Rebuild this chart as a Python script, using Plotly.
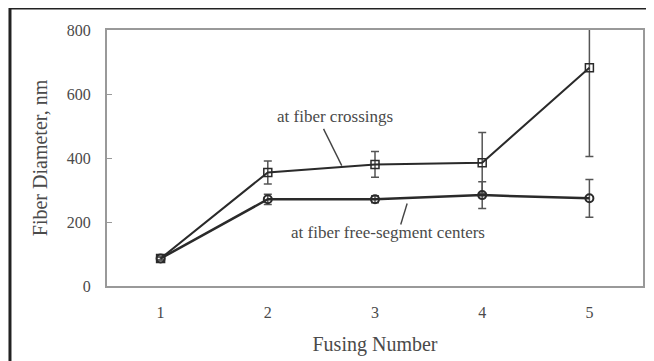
import plotly.graph_objects as go

fusing_number = [1, 2, 3, 4, 5]
crossings = [86, 355, 380, 385, 682]
crossings_err = [5, 36, 40, 95, 277]
free_centers = [86, 271, 271, 284, 274]
free_err = [5, 16, 11, 42, 59]
y_ticks = [0, 200, 400, 600, 800]

FONT = "Liberation Serif"
TXT = "#4a4a4a"
LINE = "#2a2a2a"

fig = go.Figure()
fig.add_trace(go.Scatter(
    x=fusing_number, y=crossings, mode="lines+markers",
    line=dict(color=LINE, width=2),
    marker=dict(symbol="square-open", size=8, color=LINE, line=dict(width=1.5)),
    error_y=dict(type="data", array=crossings_err, color="#555", thickness=1.5, width=4),
    showlegend=False,
))
fig.add_trace(go.Scatter(
    x=fusing_number, y=free_centers, mode="lines+markers",
    line=dict(color=LINE, width=2.5),
    marker=dict(symbol="circle-open", size=8, color=LINE, line=dict(width=2)),
    error_y=dict(type="data", array=free_err, color="#555", thickness=1.5, width=4),
    showlegend=False,
))

# text labels
fig.add_annotation(x=2.63, y=531, xref="x", yref="y", text="at fiber crossings", showarrow=False,
                   font=dict(family=FONT, size=17, color=TXT))
fig.add_annotation(x=3.12, y=166, xref="x", yref="y", text="at fiber free-segment centers",
                   showarrow=False, font=dict(family=FONT, size=17, color=TXT))
# leader lines
fig.add_shape(type="line", xref="x", yref="y", x0=2.52, y0=491, x1=2.69, y1=376,
              line=dict(color="#444", width=1.4))
fig.add_shape(type="line", xref="x", yref="y", x0=3.24, y0=192, x1=3.30, y1=258,
              line=dict(color="#444", width=1.4))

# outer frame (partially outside the view, as in the reference)
fig.add_shape(type="rect", xref="paper", yref="paper", x0=-0.181, y0=-0.35, x1=1.05, y1=1.086,
              line=dict(color="#222", width=3), fillcolor="rgba(0,0,0,0)", layer="above")

fig.update_layout(
    width=646, height=353,
    margin=dict(l=99, r=11, t=22, b=75, autoexpand=False),
    paper_bgcolor="white", plot_bgcolor="white",
    font=dict(family=FONT, color=TXT),
)
fig.update_xaxes(
    range=[0.5, 5.5], tickvals=fusing_number, ticks="", showgrid=False, zeroline=False,
    showline=True, linecolor="#999", linewidth=2, mirror=True, automargin=False,
    tickfont=dict(family=FONT, size=16, color=TXT), ticklabelstandoff=11,
    title=dict(text="Fusing Number", font=dict(family=FONT, size=20, color=TXT), standoff=17),
)
fig.update_yaxes(
    range=[0, 800], tickvals=y_ticks, ticks="inside", ticklen=5, tickcolor="#999",
    showgrid=False, zeroline=False, automargin=False,
    showline=True, linecolor="#999", linewidth=2, mirror=True,
    tickfont=dict(family=FONT, size=16, color=TXT), ticklabelstandoff=11,
    title=dict(text="Fiber Diameter, nm", font=dict(family=FONT, size=20, color=TXT), standoff=14),
)

fig.write_html("out.html")
